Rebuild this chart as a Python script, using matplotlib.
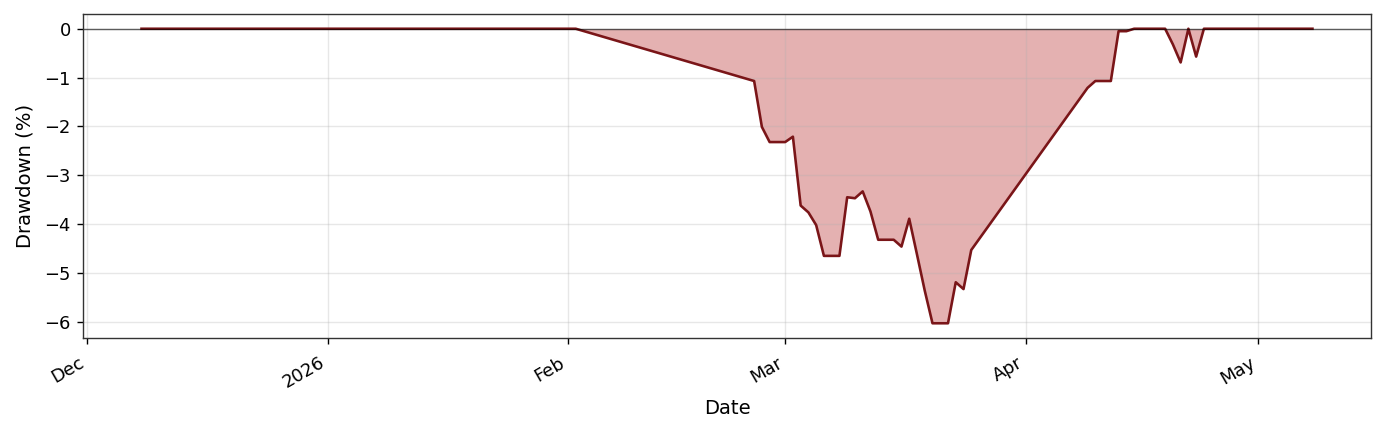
import pandas as pd
import numpy as np
import matplotlib.pyplot as plt
import matplotlib.dates as mdates

# drawdown series (%)
dates = [
    "2025-12-08", "2026-02-02",
    "2026-02-25", "2026-02-26", "2026-02-27", "2026-02-28", "2026-03-01",
    "2026-03-02", "2026-03-03", "2026-03-04", "2026-03-05", "2026-03-06",
    "2026-03-07", "2026-03-08", "2026-03-09", "2026-03-10", "2026-03-11",
    "2026-03-12", "2026-03-13", "2026-03-14", "2026-03-15", "2026-03-16",
    "2026-03-17", "2026-03-18", "2026-03-19", "2026-03-20", "2026-03-21",
    "2026-03-22", "2026-03-23", "2026-03-24", "2026-03-25",
    "2026-04-09", "2026-04-10", "2026-04-11", "2026-04-12", "2026-04-13",
    "2026-04-14", "2026-04-15", "2026-04-19", "2026-04-20", "2026-04-21",
    "2026-04-22", "2026-04-23", "2026-04-24", "2026-05-08",
]
drawdown = [
    0.0, 0.0,
    -1.07, -2.01, -2.32, -2.32, -2.32,
    -2.21, -3.62, -3.76, -4.02, -4.65,
    -4.65, -4.65, -3.45, -3.47, -3.33,
    -3.74, -4.32, -4.32, -4.32, -4.46,
    -3.89, -4.62, -5.36, -6.03, -6.03,
    -6.03, -5.19, -5.33, -4.53,
    -1.21, -1.07, -1.07, -1.07, -0.05,
    -0.05, 0.0, 0.0, -0.32, -0.69,
    0.0, -0.57, 0.0, 0.0,
]

x = pd.to_datetime(dates)
y = np.array(drawdown)

plt.rcParams.update({'font.size': 10.3, 'axes.labelsize': 11.3})
fig, ax = plt.subplots(figsize=(11.08, 3.472), dpi=125)
fig.subplots_adjust(left=0.0599, right=0.9899, top=0.9677, bottom=0.2212)

ax.fill_between(x, y, 0, color='firebrick', alpha=0.35, linewidth=0)
ax.plot(x, y, color='#7a1518', linewidth=1.5)
ax.axhline(0, color='black', linewidth=0.8, alpha=0.6)

locator = mdates.AutoDateLocator()
ax.xaxis.set_major_locator(locator)
ax.xaxis.set_major_formatter(mdates.ConciseDateFormatter(locator))
ax.tick_params(axis='x', pad=5.5)
for lbl in ax.get_xticklabels():
    lbl.set_rotation(30)
    lbl.set_ha('right')

ax.set_xlabel("Date")
ax.set_ylabel("Drawdown (%)", labelpad=6)
ax.grid(True, alpha=0.3)
for s in ax.spines.values():
    s.set_color('#333333')

plt.savefig("out.png", dpi=125)
